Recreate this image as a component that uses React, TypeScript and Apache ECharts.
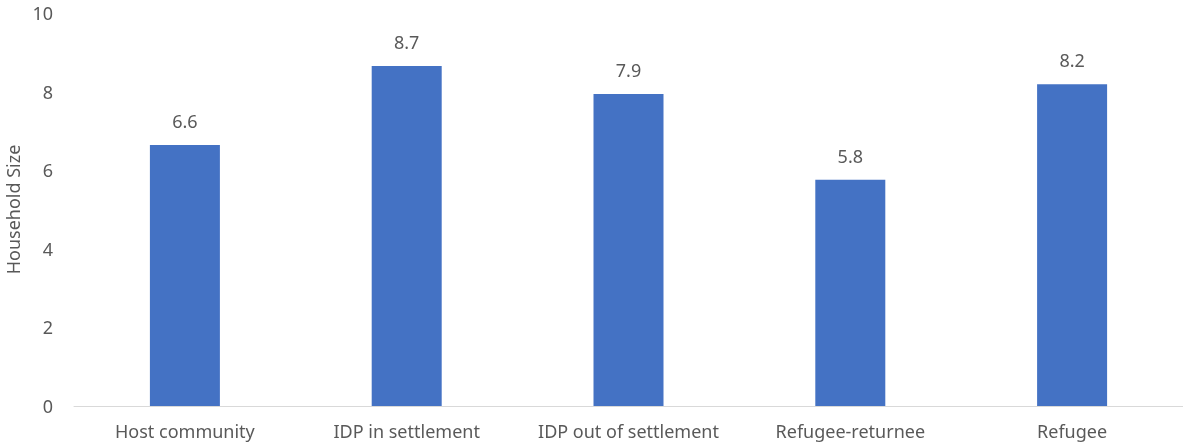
import React, { useEffect, useRef } from "react";
import * as echarts from "echarts";

const categories = ["Host community", "IDP in settlement", "IDP out of settlement", "Refugee-returnee", "Refugee"];
const householdSize = [6.64, 8.65, 7.94, 5.76, 8.19];
const yTicks = { min: 0, max: 10, interval: 2 };
const yAxisName = "Household Size";

const FONT = "'Noto Sans', 'Open Sans', sans-serif";
const TEXT = "#595959";

export default function App() {
  const ref = useRef<HTMLDivElement>(null);
  useEffect(() => {
    if (!ref.current) return;
    const chart = echarts.init(ref.current, undefined, { renderer: "svg" });
    chart.setOption({
      animation: false,
      textStyle: { fontFamily: FONT },
      grid: { left: 74, right: 0, top: 13, bottom: 38, containLabel: false, outerBoundsMode: "none" },
      xAxis: {
        type: "category",
        data: categories,
        axisLine: { show: true, lineStyle: { color: "#d9d9d9", width: 1 } },
        axisTick: { show: false },
        axisLabel: { color: TEXT, fontSize: 18, margin: 16, fontFamily: FONT, interval: 0 },
      },
      yAxis: {
        type: "value",
        min: yTicks.min,
        max: yTicks.max,
        interval: yTicks.interval,
        name: yAxisName,
        nameLocation: "middle",
        nameRotate: 90,
        nameGap: 50,
        nameTextStyle: { color: TEXT, fontSize: 18, fontFamily: FONT },
        axisLine: { show: false },
        axisTick: { show: false },
        splitLine: { show: false },
        axisLabel: { color: TEXT, fontSize: 18, margin: 21, fontFamily: FONT },
      },
      series: [
        {
          type: "bar",
          data: householdSize,
          barWidth: 70,
          itemStyle: { color: "#4472C4" },
          label: {
            show: true,
            position: "top",
            distance: 15,
            color: TEXT,
            fontSize: 18,
            fontFamily: FONT,
            formatter: (p: any) => Number(p.value).toFixed(1),
          },
        },
      ],
    });
    return () => chart.dispose();
  }, []);
  return <div ref={ref} style={{ position: "fixed", left: 0, top: 0, width: 1183, height: 444 }} />;
}
